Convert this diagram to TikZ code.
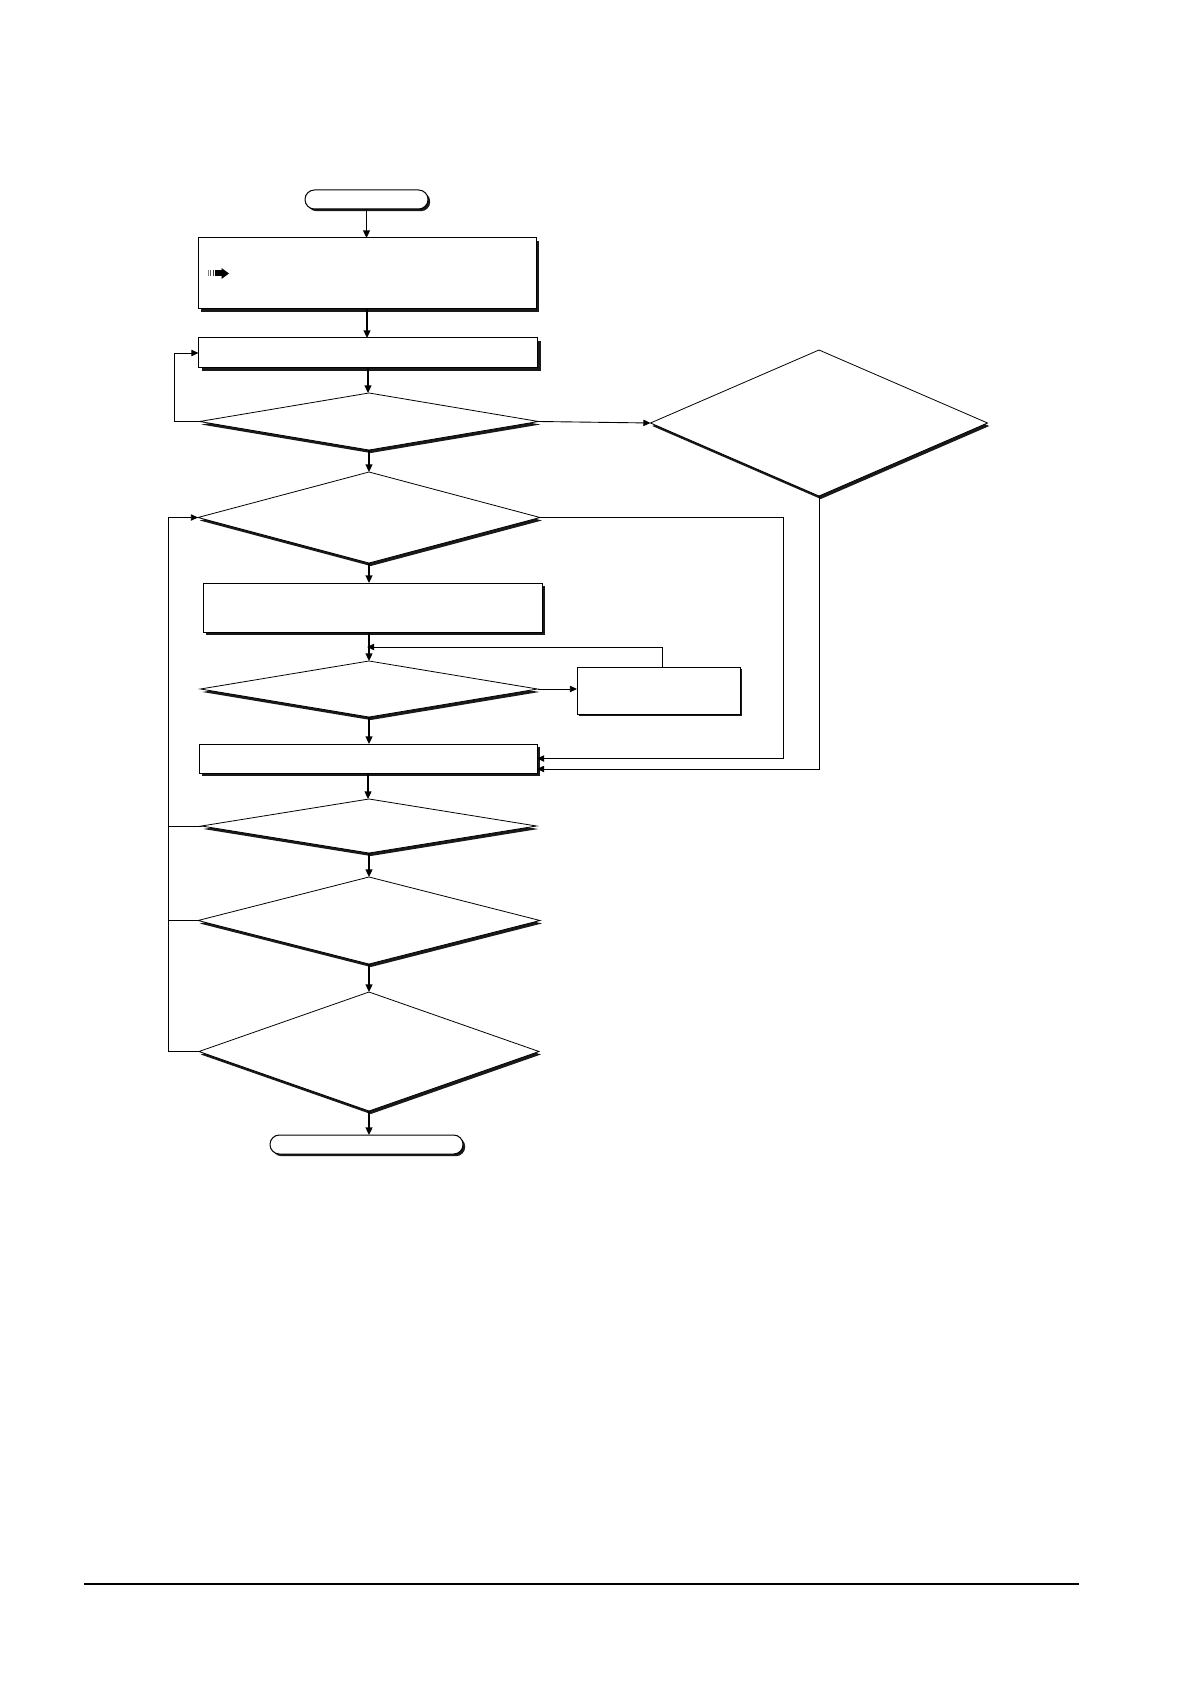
\documentclass[tikz,border=0pt]{standalone}
\usetikzlibrary{shapes.geometric,arrows.meta,shadows,calc}
\begin{document}
\begin{tikzpicture}[x=0.5pt,y=-0.5pt,
  every node/.style={inner sep=0pt, outer sep=0pt},
  box/.style={draw, line width=0.5pt, fill=white, rectangle,
    drop shadow={opacity=1,fill=black!90,shadow xshift=1.6pt,shadow yshift=-1.6pt}},
  sbox/.style={draw, line width=0.5pt, fill=white, rectangle,
    drop shadow={opacity=1,fill=black!90,shadow xshift=1.1pt,shadow yshift=-1.1pt}},
  dec/.style={draw, line width=0.4pt, fill=white, diamond,
    drop shadow={opacity=1,fill=black!90,shadow xshift=0.9pt,shadow yshift=-1.5pt}},
  term/.style={draw, line width=0.5pt, fill=white, rectangle, rounded corners=4.7pt,
    drop shadow={opacity=1,fill=black!90,shadow xshift=1.1pt,shadow yshift=-1.1pt}},
  main/.style={line width=0.8pt, -{Triangle[length=3.8pt,width=3.4pt]}},
  conn/.style={line width=0.45pt, -{Triangle[length=3.6pt,width=3.2pt]}},
  plain/.style={line width=0.45pt}]
\useasboundingbox (0,0) rectangle (1190,1684);

% nodes
\node[term, minimum width=61.5pt, minimum height=9.5pt] (st) at (366.5,199.5) {};
\node[box, minimum width=169pt, minimum height=35.5pt] (b1) at (367,273.5) {};
\node[box, minimum width=169.5pt, minimum height=15pt] (b2) at (368,353) {};
\node[dec, minimum width=169.5pt, minimum height=28.5pt] (d1) at (369,421.5) {};
\node[dec, minimum width=168.5pt, minimum height=73pt] (rd) at (819,423) {};
\node[dec, minimum width=171pt, minimum height=45.5pt] (d2) at (369,517.5) {};
\node[box, minimum width=169.5pt, minimum height=24.5pt] (b3) at (372.5,607.5) {};
\node[dec, minimum width=168.5pt, minimum height=28pt] (d3) at (369,689) {};
\node[sbox, minimum width=81.5pt, minimum height=23.5pt] (side) at (658.5,690.5) {};
\node[box, minimum width=169pt, minimum height=14.5pt] (b4) at (368,758.5) {};
\node[dec, minimum width=167.5pt, minimum height=27pt] (d4) at (369,826) {};
\node[dec, minimum width=171pt, minimum height=43.5pt] (d5) at (369,920.5) {};
\node[dec, minimum width=170pt, minimum height=59.5pt] (d6) at (369,1051.5) {};
\node[term, minimum width=96.5pt, minimum height=9.5pt] (en) at (366.5,1144.5) {};

% arrow glyph in first box
\fill[black!50] (207.5,270.5) rectangle (208.8,276.5);
\fill[black!65] (210,270.5) rectangle (211.3,276.5);
\fill[black!80] (212.5,270.5) rectangle (213.8,276.5);
\fill[black] (215,270.5) rectangle (222,276.5);
\fill[black] (221.5,268) -- (229,273.5) -- (221.5,279) -- cycle;

% helper coordinates
\coordinate (L1) at (174,0);
\coordinate (L2) at (168,0);
\coordinate (R1) at (783,0);
\coordinate (J) at (367,647);

% main vertical flow
\draw[main] (st.south) -- (st.south |- b1.north);
\draw[main] (b1.south) -- (b1.south |- b2.north);
\draw[main] (b2.south) -- (b2.south |- d1.north);
\draw[main] (d1.south) -- (d1.south |- d2.north);
\draw[main] (d2.south) -- (d2.south |- b3.north);
\draw[main] (d2.south |- b3.south) -- (d3.north);
\draw[main] (d3.south) -- (d3.south |- b4.north);
\draw[main] (b4.south) -- (b4.south |- d4.north);
\draw[main] (d4.south) -- (d4.south |- d5.north);
\draw[main] (d5.south) -- (d5.south |- d6.north);
\draw[main] (d6.south) -- (d6.south |- en.north);

% loops on the left
\draw[conn] (d1.west) -- (d1.west -| L1) |- (b2.west);
\draw[plain] (d4.west) -- (d4.west -| L2);
\draw[plain] (d5.west) -- (d5.west -| L2);
\draw[conn] (d6.west) -- (d6.west -| L2) |- (d2.west);

% right side
\draw[conn] (d1.east) -- (rd.west);
\draw[conn] (d2.east) -- (d2.east -| R1) |- (b4.east);
\draw[conn] (rd.south) |- ([yshift=-5.25pt]b4.east);
\draw[conn] (d3.east) -- (d3.east -| side.west);
\draw[conn] ([xshift=1.75pt]side.north) |- (J);

% footer rule
\draw[line width=1.3pt] (84,1584) -- (1079,1584);
\end{tikzpicture}
\end{document}
